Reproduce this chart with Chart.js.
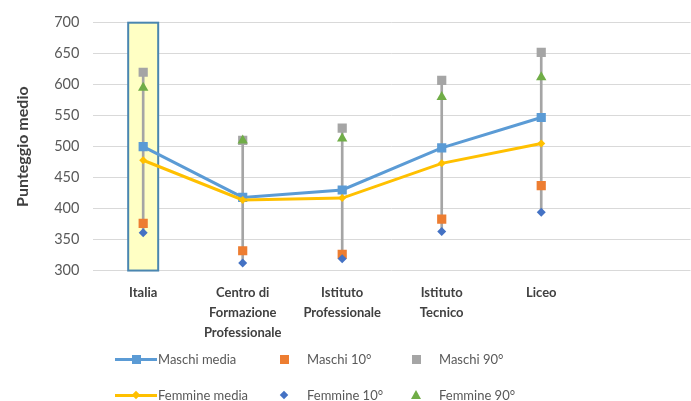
<!DOCTYPE html>
<html>
<head>
<meta charset="utf-8">
<script src="https://cdn.jsdelivr.net/npm/chart.js@4.4.1/dist/chart.umd.min.js"></script>
<style>
    html, body { margin: 0; padding: 0; background: #fff; overflow: hidden; }
    #wrap { position: relative; width: 691px; height: 401px; overflow: hidden; font-family: Lato, "Open Sans", sans-serif; }
    #chart { position: absolute; left: 0; top: 0; }
    #legend { position: absolute; left: 0; top: 0; width: 691px; height: 401px; pointer-events: none; }
    .item { position: absolute; display: flex; align-items: center; font-size: 13px; color: #595959; white-space: nowrap; transform: translateY(-50%); }
    .mk { display: inline-block; position: relative; }
</style>
</head>
<body>
<div id="wrap">
    <canvas id="chart" width="697" height="401"></canvas>
    <div id="legend"></div>
</div>
<script>
const categories = ['Italia', ['Centro di', 'Formazione', 'Professionale'], ['Istituto', 'Professionale'], ['Istituto', 'Tecnico'], 'Liceo', ''];
const maschiMedia = [500, 418, 430, 498, 547, null];
const femmineMedia = [478, 414, 417, 473, 505, null];
const maschi10 = [376, 332, 326, 383, 437, null];
const maschi90 = [620, 510, 530, 607, 652, null];
const femmine10 = [361, 312, 319, 363, 394, null];
const femmine90 = [595, 510, 513, 580, 612, null];
const yTicks = [300, 350, 400, 450, 500, 550, 600, 650, 700];

// high-low line for each category, from the lowest to the highest value
const allSeries = [maschiMedia, femmineMedia, maschi10, maschi90, femmine10, femmine90];
const highLow = categories.map((c, i) => {
    const vals = allSeries.map(s => s[i]).filter(v => v !== null);
    return vals.length ? [Math.min(...vals), Math.max(...vals)] : null;
});

const highlightPlugin = {
    id: 'highlight',
    beforeDatasetsDraw(chart) {
        const { ctx, scales: { x, y } } = chart;
        const cx = x.getPixelForValue(0);
        const top = y.getPixelForValue(700);
        const bottom = y.getPixelForValue(300);
        ctx.save();
        ctx.fillStyle = '#FFFFC4';
        ctx.strokeStyle = '#4A86B0';
        ctx.lineWidth = 2;
        ctx.fillRect(cx - 15, top, 30, bottom - top);
        ctx.strokeRect(cx - 15, top, 30, bottom - top);
        ctx.restore();
    }
};

const pointSet = (label, data, color, style, radius, order) => ({
    type: 'line',
    label: label,
    data: data,
    showLine: false,
    pointStyle: style,
    pointRadius: radius,
    pointHoverRadius: radius,
    pointBackgroundColor: color,
    pointBorderColor: color,
    pointBorderWidth: 0,
    backgroundColor: color,
    borderColor: color,
    order: order
});

new Chart(document.getElementById('chart'), {
    type: 'line',
    data: {
        labels: categories,
        datasets: [
            {
                type: 'bar',
                label: 'Alto-basso',
                data: highLow,
                backgroundColor: '#A5A5A5',
                barThickness: 2,
                order: 20
            },
            {
                label: 'Maschi media',
                data: maschiMedia,
                borderColor: '#5B9BD5',
                backgroundColor: '#5B9BD5',
                borderWidth: 3,
                pointStyle: 'rect',
                pointRadius: 6.5,
                pointBackgroundColor: '#5B9BD5',
                pointBorderWidth: 0,
                tension: 0,
                order: 9
            },
            {
                label: 'Femmine media',
                data: femmineMedia,
                borderColor: '#FFC000',
                backgroundColor: '#FFC000',
                borderWidth: 3,
                pointStyle: 'rectRot',
                pointRadius: 4,
                pointBackgroundColor: '#FFC000',
                pointBorderWidth: 0,
                tension: 0,
                order: 8
            },
            pointSet('Maschi 10°', maschi10, '#ED7D31', 'rect', 6.5, 5),
            pointSet('Maschi 90°', maschi90, '#A5A5A5', 'rect', 6.5, 4),
            pointSet('Femmine 10°', femmine10, '#4472C4', 'rectRot', 4.5, 3),
            pointSet('Femmine 90°', femmine90, '#70AD47', 'triangle', 6, 2)
        ]
    },
    options: {
        responsive: false,
        animation: false,
        devicePixelRatio: 1,
        layout: { padding: { top: 21, right: 0, bottom: 54, left: 13 } },
        plugins: {
            legend: { display: false },
            tooltip: { enabled: false }
        },
        scales: {
            x: {
                offset: true,
                grid: { display: false },
                border: { display: false },
                ticks: {
                    autoSkip: false,
                    maxRotation: 0,
                    color: '#404040',
                    font: { family: 'Lato', size: 13, weight: 'bold', lineHeight: 1.55 },
                    padding: 4
                }
            },
            y: {
                min: 300,
                max: 700,
                afterBuildTicks: axis => { axis.ticks = yTicks.map(v => ({ value: v })); },
                grid: { color: '#D9D9D9', lineWidth: 1, drawTicks: false },
                border: { display: false },
                ticks: {
                    color: '#595959',
                    font: { family: 'Lato', size: 14.5 },
                    padding: 14
                },
                title: {
                    display: true,
                    text: 'Punteggio medio',
                    color: '#404040',
                    font: { family: 'Lato', size: 16, weight: 'bold' },
                    padding: { top: 0, bottom: 8 }
                }
            }
        }
    },
    plugins: [highlightPlugin]
});

// legend laid out in two rows of three like the original
const legendItems = [
    { text: 'Maschi media', x: 115, y: 359, kind: 'line', color: '#5B9BD5', marker: 'square' },
    { text: 'Maschi 10°', x: 278, y: 359, kind: 'point', color: '#ED7D31', marker: 'square' },
    { text: 'Maschi 90°', x: 410, y: 359, kind: 'point', color: '#A5A5A5', marker: 'square' },
    { text: 'Femmine media', x: 115, y: 395, kind: 'line', color: '#FFC000', marker: 'diamond' },
    { text: 'Femmine 10°', x: 278, y: 395, kind: 'point', color: '#4472C4', marker: 'diamond' },
    { text: 'Femmine 90°', x: 410, y: 395, kind: 'point', color: '#70AD47', marker: 'triangle' }
];

function markerHtml(item) {
    let m = '';
    if (item.marker === 'square') {
        m = `<span style="position:absolute;left:50%;top:50%;width:9px;height:9px;margin:-4.5px 0 0 -4.5px;background:${item.color}"></span>`;
    } else if (item.marker === 'diamond') {
        m = `<span style="position:absolute;left:50%;top:50%;width:6px;height:6px;margin:-3px 0 0 -3px;background:${item.color};transform:rotate(45deg)"></span>`;
    } else {
        m = `<span style="position:absolute;left:50%;top:50%;width:0;height:0;margin:-5px 0 0 -5px;border-left:5px solid transparent;border-right:5px solid transparent;border-bottom:9px solid ${item.color}"></span>`;
    }
    if (item.kind === 'line') {
        return `<span class="mk" style="width:42px;height:12px;margin-right:1px"><span style="position:absolute;left:0;right:0;top:5px;height:3px;background:${item.color}"></span>${m}</span>`;
    }
    return `<span class="mk" style="width:12px;height:12px;margin-right:17px">${m}</span>`;
}

document.getElementById('legend').innerHTML = legendItems.map(item =>
    `<div class="item" style="left:${item.x}px;top:${item.y}px">${markerHtml(item)}<span>${item.text}</span></div>`
).join('');
</script>
</body>
</html>
